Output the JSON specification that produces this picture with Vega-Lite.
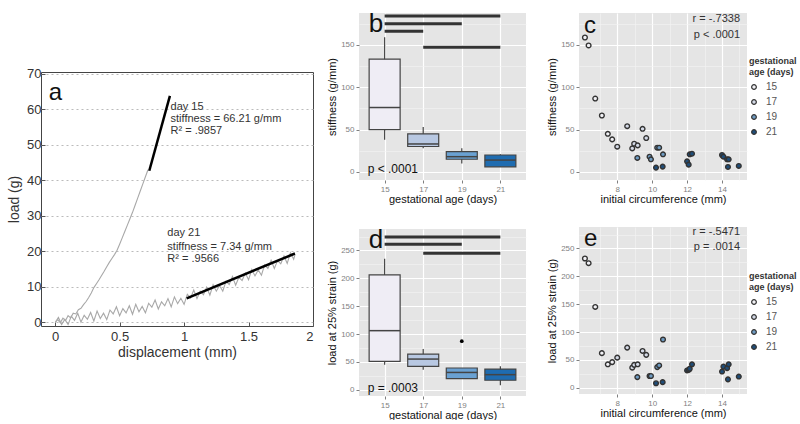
{
  "$schema": "https://vega.github.io/schema/vega-lite/v6.json",
  "padding": {"left": 7, "top": 10, "right": 0, "bottom": 0},
  "background": "white",
  "config": {
    "font": "Liberation Sans",
    "view": {"stroke": null},
    "axis": {"domain": false, "labelOverlap": false, "labelColor": "#7f7f7f", "labelFontSize": 8, "tickColor": "#7f7f7f", "tickSize": 3, "labelPadding": 2, "titleFontSize": 11, "titleFontWeight": "normal", "titleColor": "#111111", "titlePadding": 3, "gridColor": "#ffffff", "gridWidth": 1.2},
    "axisX": {"titlePadding": 0}
  },
  "datasets": {
    "curves": [
      {"curve": "d15", "x": 0.00, "y": 0.0}, {"curve": "d15", "x": 0.02, "y": 0.8}, {"curve": "d15", "x": 0.04, "y": -0.1}, {"curve": "d15", "x": 0.06, "y": 1.2}, {"curve": "d15", "x": 0.08, "y": 0.5}, {"curve": "d15", "x": 0.10, "y": 1.9}, {"curve": "d15", "x": 0.12, "y": 1.3}, {"curve": "d15", "x": 0.14, "y": 2.6}, {"curve": "d15", "x": 0.16, "y": 2.4}, {"curve": "d15", "x": 0.18, "y": 3.6}, {"curve": "d15", "x": 0.20, "y": 4.0}, {"curve": "d15", "x": 0.22, "y": 5.0}, {"curve": "d15", "x": 0.24, "y": 5.9}, {"curve": "d15", "x": 0.26, "y": 7.0}, {"curve": "d15", "x": 0.28, "y": 8.3}, {"curve": "d15", "x": 0.30, "y": 9.8}, {"curve": "d15", "x": 0.32, "y": 10.9}, {"curve": "d15", "x": 0.34, "y": 12.0}, {"curve": "d15", "x": 0.36, "y": 13.2}, {"curve": "d15", "x": 0.38, "y": 14.4}, {"curve": "d15", "x": 0.40, "y": 15.7}, {"curve": "d15", "x": 0.42, "y": 16.9}, {"curve": "d15", "x": 0.44, "y": 18.0}, {"curve": "d15", "x": 0.46, "y": 19.1}, {"curve": "d15", "x": 0.48, "y": 20.3}, {"curve": "d15", "x": 0.50, "y": 22.0}, {"curve": "d15", "x": 0.52, "y": 23.8}, {"curve": "d15", "x": 0.54, "y": 25.6}, {"curve": "d15", "x": 0.56, "y": 27.4}, {"curve": "d15", "x": 0.58, "y": 29.2}, {"curve": "d15", "x": 0.60, "y": 31.0}, {"curve": "d15", "x": 0.62, "y": 33.0}, {"curve": "d15", "x": 0.64, "y": 35.0}, {"curve": "d15", "x": 0.66, "y": 37.0}, {"curve": "d15", "x": 0.68, "y": 39.0}, {"curve": "d15", "x": 0.70, "y": 41.0}, {"curve": "d15", "x": 0.72, "y": 43.0},
      {"curve": "d21", "x": 0.000, "y": 0.0}, {"curve": "d21", "x": 0.025, "y": 1.4}, {"curve": "d21", "x": 0.050, "y": -0.6}, {"curve": "d21", "x": 0.075, "y": 0.9}, {"curve": "d21", "x": 0.100, "y": -0.6}, {"curve": "d21", "x": 0.125, "y": 1.8}, {"curve": "d21", "x": 0.150, "y": 0.6}, {"curve": "d21", "x": 0.175, "y": 2.6}, {"curve": "d21", "x": 0.200, "y": 0.1}, {"curve": "d21", "x": 0.225, "y": 2.0}, {"curve": "d21", "x": 0.250, "y": 0.9}, {"curve": "d21", "x": 0.275, "y": 2.8}, {"curve": "d21", "x": 0.300, "y": 0.4}, {"curve": "d21", "x": 0.325, "y": 3.2}, {"curve": "d21", "x": 0.350, "y": 1.1}, {"curve": "d21", "x": 0.375, "y": 2.6}, {"curve": "d21", "x": 0.400, "y": 0.8}, {"curve": "d21", "x": 0.425, "y": 3.5}, {"curve": "d21", "x": 0.450, "y": 2.4}, {"curve": "d21", "x": 0.475, "y": 4.4}, {"curve": "d21", "x": 0.500, "y": 1.9}, {"curve": "d21", "x": 0.525, "y": 3.9}, {"curve": "d21", "x": 0.550, "y": 2.7}, {"curve": "d21", "x": 0.575, "y": 4.7}, {"curve": "d21", "x": 0.600, "y": 2.3}, {"curve": "d21", "x": 0.625, "y": 5.1}, {"curve": "d21", "x": 0.650, "y": 3.0}, {"curve": "d21", "x": 0.675, "y": 4.5}, {"curve": "d21", "x": 0.700, "y": 2.7}, {"curve": "d21", "x": 0.725, "y": 5.4}, {"curve": "d21", "x": 0.750, "y": 4.3}, {"curve": "d21", "x": 0.775, "y": 6.3}, {"curve": "d21", "x": 0.800, "y": 3.8}, {"curve": "d21", "x": 0.825, "y": 5.8}, {"curve": "d21", "x": 0.850, "y": 4.7}, {"curve": "d21", "x": 0.875, "y": 6.7}, {"curve": "d21", "x": 0.900, "y": 4.4}, {"curve": "d21", "x": 0.925, "y": 7.2}, {"curve": "d21", "x": 0.950, "y": 5.3}, {"curve": "d21", "x": 0.975, "y": 6.8}, {"curve": "d21", "x": 1.000, "y": 5.1}, {"curve": "d21", "x": 1.025, "y": 7.9}, {"curve": "d21", "x": 1.050, "y": 6.9}, {"curve": "d21", "x": 1.075, "y": 9.1}, {"curve": "d21", "x": 1.100, "y": 6.7}, {"curve": "d21", "x": 1.125, "y": 8.8}, {"curve": "d21", "x": 1.150, "y": 7.8}, {"curve": "d21", "x": 1.175, "y": 9.9}, {"curve": "d21", "x": 1.200, "y": 7.7}, {"curve": "d21", "x": 1.225, "y": 10.6}, {"curve": "d21", "x": 1.250, "y": 8.8}, {"curve": "d21", "x": 1.275, "y": 10.4}, {"curve": "d21", "x": 1.300, "y": 8.8}, {"curve": "d21", "x": 1.325, "y": 11.6}, {"curve": "d21", "x": 1.350, "y": 10.7}, {"curve": "d21", "x": 1.375, "y": 12.9}, {"curve": "d21", "x": 1.400, "y": 10.5}, {"curve": "d21", "x": 1.425, "y": 12.7}, {"curve": "d21", "x": 1.450, "y": 11.8}, {"curve": "d21", "x": 1.475, "y": 13.9}, {"curve": "d21", "x": 1.500, "y": 12.0}, {"curve": "d21", "x": 1.525, "y": 14.9}, {"curve": "d21", "x": 1.550, "y": 13.1}, {"curve": "d21", "x": 1.575, "y": 14.8}, {"curve": "d21", "x": 1.600, "y": 13.3}, {"curve": "d21", "x": 1.625, "y": 16.2}, {"curve": "d21", "x": 1.650, "y": 15.2}, {"curve": "d21", "x": 1.675, "y": 17.5}, {"curve": "d21", "x": 1.700, "y": 15.2}, {"curve": "d21", "x": 1.725, "y": 17.4}, {"curve": "d21", "x": 1.750, "y": 16.5}, {"curve": "d21", "x": 1.775, "y": 18.7}, {"curve": "d21", "x": 1.800, "y": 16.6}, {"curve": "d21", "x": 1.825, "y": 19.6}, {"curve": "d21", "x": 1.850, "y": 17.8}, {"curve": "d21", "x": 1.860, "y": 19.0}
    ],
    "fits": [
      {"curve": "d15", "x": 0.73, "y": 42.7}, {"curve": "d15", "x": 0.89, "y": 63.8},
      {"curve": "d21", "x": 1.02, "y": 6.8}, {"curve": "d21", "x": 1.86, "y": 19.4}
    ],
    "annA": [
      {"x": 0.895, "y": 60.7, "label": "day 15"},
      {"x": 0.895, "y": 57.3, "label": "stiffness = 66.21 g/mm"},
      {"x": 0.895, "y": 53.9, "label": "R² = .9857"},
      {"x": 0.87, "y": 25.2, "label": "day 21"},
      {"x": 0.87, "y": 21.3, "label": "stiffness = 7.34 g/mm"},
      {"x": 0.87, "y": 17.9, "label": "R² = .9566"}
    ],
    "letterA": [{"x": -0.05, "y": 64.5, "label": "a"}],
    "boxB": [
      {"age": 15, "lo": 38, "q1": 50, "med": 76, "q3": 133, "hi": 159},
      {"age": 17, "lo": 28, "q1": 30, "med": 33, "q3": 45, "hi": 53},
      {"age": 19, "lo": 10, "q1": 15, "med": 18, "q3": 24, "hi": 28},
      {"age": 21, "lo": 6, "q1": 6, "med": 14, "q3": 20, "hi": 21}
    ],
    "boxD": [
      {"age": 15, "lo": 45, "q1": 51, "med": 106, "q3": 206, "hi": 235},
      {"age": 17, "lo": 36, "q1": 42, "med": 55, "q3": 64, "hi": 73},
      {"age": 19, "lo": 20, "q1": 20, "med": 31, "q3": 39, "hi": 39},
      {"age": 21, "lo": 8, "q1": 17, "med": 27, "q3": 37, "hi": 42}
    ],
    "outD": [{"age": 19, "y": 87}],
    "sigB": [
      {"age": 15, "age2": 21, "y": 183.9},
      {"age": 15, "age2": 19, "y": 174.8},
      {"age": 15, "age2": 17, "y": 166.1},
      {"age": 17, "age2": 21, "y": 147.2}
    ],
    "sigD": [
      {"age": 15, "age2": 21, "y": 274},
      {"age": 15, "age2": 19, "y": 261},
      {"age": 17, "age2": 21, "y": 245}
    ],
    "txtB": [{"age": 14.17, "y": 175, "label": "b", "kind": "letter"}, {"age": 14.12, "y": 3.5, "label": "p < .0001", "kind": "p"}],
    "txtD": [{"age": 14.17, "y": 269, "label": "d", "kind": "letter"}, {"age": 14.12, "y": 3, "label": "p = .0003", "kind": "p"}],
    "txtC": [{"circ": 6.09, "y": 172, "label": "c"}],
    "txtE": [{"circ": 6.09, "y": 267, "label": "e"}],
    "statC": [{"circ": 15.03, "y": 180, "label": "r = -.7338"}, {"circ": 15.03, "y": 161.5, "label": "p < .0001"}],
    "statE": [{"circ": 15.03, "y": 279, "label": "r = -.5471"}, {"circ": 15.03, "y": 252, "label": "p = .0014"}],
    "scatter": [
      {"circ": 6.15, "stiff": 158.6, "load": 232, "age": 15},
      {"circ": 6.36, "stiff": 149.2, "load": 223.5, "age": 15},
      {"circ": 6.74, "stiff": 86.6, "load": 145, "age": 15},
      {"circ": 7.12, "stiff": 66.6, "load": 62, "age": 15},
      {"circ": 7.46, "stiff": 45, "load": 42, "age": 15},
      {"circ": 7.71, "stiff": 38.4, "load": 46, "age": 15},
      {"circ": 8.0, "stiff": 29.8, "load": 54, "age": 17},
      {"circ": 8.57, "stiff": 54, "load": 72, "age": 17},
      {"circ": 8.86, "stiff": 27.8, "load": 36, "age": 17},
      {"circ": 8.97, "stiff": 33.3, "load": 41, "age": 17},
      {"circ": 9.17, "stiff": 31.3, "load": 42, "age": 17},
      {"circ": 9.45, "stiff": 50.9, "load": 66, "age": 17},
      {"circ": 9.66, "stiff": 40, "load": 59, "age": 17},
      {"circ": 9.15, "stiff": 16.5, "load": 19, "age": 19},
      {"circ": 9.85, "stiff": 18, "load": 21, "age": 19},
      {"circ": 9.93, "stiff": 14.9, "load": 21, "age": 19},
      {"circ": 10.29, "stiff": 28.6, "load": 37, "age": 19},
      {"circ": 10.4, "stiff": 28.6, "load": 40, "age": 19},
      {"circ": 10.62, "stiff": 20.8, "load": 86.5, "age": 19},
      {"circ": 10.22, "stiff": 5.1, "load": 8, "age": 21},
      {"circ": 10.6, "stiff": 6.3, "load": 10, "age": 21},
      {"circ": 12.0, "stiff": 12.5, "load": 31, "age": 21},
      {"circ": 12.09, "stiff": 8.6, "load": 32, "age": 21},
      {"circ": 12.15, "stiff": 20.8, "load": 34, "age": 21},
      {"circ": 12.28, "stiff": 21.5, "load": 42, "age": 21},
      {"circ": 14.0, "stiff": 20, "load": 29, "age": 21},
      {"circ": 14.08, "stiff": 18, "load": 38, "age": 21},
      {"circ": 14.29, "stiff": 14.9, "load": 35, "age": 21},
      {"circ": 14.38, "stiff": 14.9, "load": 42, "age": 21},
      {"circ": 14.34, "stiff": 5.9, "load": 15, "age": 21},
      {"circ": 14.96, "stiff": 7.1, "load": 20, "age": 21}
    ]
  },
  "spacing": 12,
  "resolve": {"scale": {"x": "independent", "y": "independent", "fill": "independent"}, "legend": {"fill": "independent"}},
  "hconcat": [
    {
      "spacing": 0,
      "resolve": {"scale": {"x": "independent", "y": "independent"}},
      "vconcat": [
        {"width": 272, "height": 54, "data": {"values": [{"t": ""}]}, "mark": "text", "encoding": {"text": {"field": "t"}}},
        {
          "width": 272, "height": 254,
          "view": {"stroke": "#444444", "strokeWidth": 1, "fill": "white"},
          "layer": [
            {
              "data": {"name": "curves"},
              "mark": {"type": "line", "color": "#a8a8a8", "strokeWidth": 1.1},
              "encoding": {
                "x": {"field": "x", "type": "quantitative", "scale": {"domain": [-0.11, 2], "nice": false, "zero": false}, "axis": {"title": "displacement (mm)", "values": [0, 0.5, 1, 1.5, 2], "tickCount": 30, "labelOverlap": false, "labelExpr": "'' + datum.value", "grid": false, "labelColor": "#333333", "labelFontSize": 13, "titleFontSize": 14, "titleColor": "#333333", "tickColor": "#555555", "tickSize": -4, "labelPadding": 8, "titlePadding": 2}},
                "y": {"field": "y", "type": "quantitative", "scale": {"domain": [-1, 70.5], "nice": false, "zero": false}, "axis": {"title": "load (g)", "values": [0, 10, 20, 30, 40, 50, 60, 70], "tickCount": 30, "format": "d", "labelOverlap": false, "grid": true, "gridDash": [2, 3], "gridColor": "#bbbbbb", "gridWidth": 1, "labelColor": "#333333", "labelFontSize": 13, "titleFontSize": 14, "titleColor": "#333333", "tickColor": "#555555", "tickSize": -4, "labelPadding": 4, "titlePadding": 5}},
                "detail": {"field": "curve"}
              }
            },
            {
              "data": {"name": "fits"},
              "mark": {"type": "line", "color": "#000000", "strokeWidth": 2.5},
              "encoding": {
                "x": {"field": "x", "type": "quantitative"},
                "y": {"field": "y", "type": "quantitative"},
                "detail": {"field": "curve"}
              }
            },
            {
              "data": {"name": "annA"},
              "mark": {"type": "text", "align": "left", "baseline": "middle", "fontSize": 11, "color": "#333333"},
              "encoding": {
                "x": {"field": "x", "type": "quantitative"},
                "y": {"field": "y", "type": "quantitative"},
                "text": {"field": "label"}
              }
            },
            {
              "data": {"name": "letterA"},
              "mark": {"type": "text", "align": "left", "baseline": "middle", "fontSize": 24, "color": "#111111"},
              "encoding": {
                "x": {"field": "x", "type": "quantitative"},
                "y": {"field": "y", "type": "quantitative"},
                "text": {"field": "label"}
              }
            }
          ]
        }
      ]
    },
    {
      "spacing": 20,
      "resolve": {"scale": {"x": "independent", "y": "independent", "fill": "independent"}, "legend": {"fill": "independent"}},
      "hconcat": [
        {
          "spacing": 22,
          "resolve": {"scale": {"x": "independent", "y": "independent", "fill": "independent"}},
          "vconcat": [
            {
              "width": 167, "height": 167,
              "view": {"fill": "#e5e5e5", "stroke": null},
              "layer": [
                {
                  "data": {"name": "boxB"},
                  "mark": {"type": "rule", "color": "#444444", "strokeWidth": 1.2},
                  "encoding": {
                    "x": {"field": "age", "type": "quantitative", "scale": {"domain": [13.93, 22.07], "nice": false, "zero": false}, "axis": {"title": "gestational age (days)", "values": [15, 17, 19, 21], "tickCount": 30, "format": "d", "labelOverlap": false}},
                    "y": {"field": "lo", "type": "quantitative", "scale": {"domain": [-9.5, 187.5], "nice": false, "zero": false}, "axis": {"title": "stiffness (g/mm)", "values": [0, 25, 50, 75, 100, 125, 150, 175], "tickCount": 30, "format": "d", "labelOverlap": false, "labelExpr": "datum.value % 50 === 0 ? datum.label : ''", "tickOpacity": {"condition": {"test": "datum.value % 50 === 0", "value": 1}, "value": 0}, "gridColor": {"condition": {"test": "datum.value % 50 === 0", "value": "#ffffff"}, "value": "#f3f3f3"}, "gridWidth": {"condition": {"test": "datum.value % 50 === 0", "value": 1.2}, "value": 0.6}}},
                    "y2": {"field": "hi"}
                  }
                },
                {
                  "data": {"name": "boxB"},
                  "mark": {"type": "bar", "width": 31, "stroke": "#444444", "strokeWidth": 1.2},
                  "encoding": {
                    "x": {"field": "age", "type": "quantitative"},
                    "y": {"field": "q1", "type": "quantitative"},
                    "y2": {"field": "q3"},
                    "fill": {"field": "age", "type": "ordinal", "scale": {"domain": [15, 17, 19, 21], "range": ["#efedf5", "#b8c8e2", "#6aa1d2", "#1f6cb0"]}, "legend": null}
                  }
                },
                {
                  "data": {"name": "boxB"},
                  "mark": {"type": "tick", "orient": "horizontal", "size": 31, "thickness": 1.5, "color": "#444444", "opacity": 1},
                  "encoding": {
                    "x": {"field": "age", "type": "quantitative"},
                    "y": {"field": "med", "type": "quantitative"}
                  }
                },
                {
                  "data": {"name": "sigB"},
                  "mark": {"type": "rule", "color": "#333333", "strokeWidth": 3},
                  "encoding": {
                    "x": {"field": "age", "type": "quantitative"},
                    "x2": {"field": "age2"},
                    "y": {"field": "y", "type": "quantitative"}
                  }
                },
                {
                  "data": {"name": "txtB"},
                  "mark": {"type": "text", "align": "left", "baseline": "middle", "color": "#111111"},
                  "encoding": {
                    "x": {"field": "age", "type": "quantitative"},
                    "y": {"field": "y", "type": "quantitative"},
                    "text": {"field": "label"},
                    "size": {"field": "kind", "type": "nominal", "scale": {"domain": ["letter", "p"], "range": [26, 12]}, "legend": null}
                  }
                }
              ]
            },
            {
              "width": 167, "height": 167,
              "view": {"fill": "#e5e5e5", "stroke": null},
              "layer": [
                {
                  "data": {"name": "boxD"},
                  "mark": {"type": "rule", "color": "#444444", "strokeWidth": 1.2},
                  "encoding": {
                    "x": {"field": "age", "type": "quantitative", "scale": {"domain": [13.93, 22.07], "nice": false, "zero": false}, "axis": {"title": "gestational age (days)", "values": [15, 17, 19, 21], "tickCount": 30, "format": "d", "labelOverlap": false}},
                    "y": {"field": "lo", "type": "quantitative", "scale": {"domain": [-11.3, 288.5], "nice": false, "zero": false}, "axis": {"title": "load at 25% strain (g)", "values": [0, 25, 50, 75, 100, 125, 150, 175, 200, 225, 250, 275], "tickCount": 30, "format": "d", "labelOverlap": false, "labelExpr": "datum.value % 50 === 0 ? datum.label : ''", "tickOpacity": {"condition": {"test": "datum.value % 50 === 0", "value": 1}, "value": 0}, "gridColor": {"condition": {"test": "datum.value % 50 === 0", "value": "#ffffff"}, "value": "#f3f3f3"}, "gridWidth": {"condition": {"test": "datum.value % 50 === 0", "value": 1.2}, "value": 0.6}}},
                    "y2": {"field": "hi"}
                  }
                },
                {
                  "data": {"name": "boxD"},
                  "mark": {"type": "bar", "width": 31, "stroke": "#444444", "strokeWidth": 1.2},
                  "encoding": {
                    "x": {"field": "age", "type": "quantitative"},
                    "y": {"field": "q1", "type": "quantitative"},
                    "y2": {"field": "q3"},
                    "fill": {"field": "age", "type": "ordinal", "scale": {"domain": [15, 17, 19, 21], "range": ["#efedf5", "#b8c8e2", "#6aa1d2", "#1f6cb0"]}, "legend": null}
                  }
                },
                {
                  "data": {"name": "boxD"},
                  "mark": {"type": "tick", "orient": "horizontal", "size": 31, "thickness": 1.5, "color": "#444444", "opacity": 1},
                  "encoding": {
                    "x": {"field": "age", "type": "quantitative"},
                    "y": {"field": "med", "type": "quantitative"}
                  }
                },
                {
                  "data": {"name": "outD"},
                  "mark": {"type": "point", "filled": true, "color": "#000000", "size": 14, "opacity": 1},
                  "encoding": {
                    "x": {"field": "age", "type": "quantitative"},
                    "y": {"field": "y", "type": "quantitative"}
                  }
                },
                {
                  "data": {"name": "sigD"},
                  "mark": {"type": "rule", "color": "#333333", "strokeWidth": 3},
                  "encoding": {
                    "x": {"field": "age", "type": "quantitative"},
                    "x2": {"field": "age2"},
                    "y": {"field": "y", "type": "quantitative"}
                  }
                },
                {
                  "data": {"name": "txtD"},
                  "mark": {"type": "text", "align": "left", "baseline": "middle", "color": "#111111"},
                  "encoding": {
                    "x": {"field": "age", "type": "quantitative"},
                    "y": {"field": "y", "type": "quantitative"},
                    "text": {"field": "label"},
                    "size": {"field": "kind", "type": "nominal", "scale": {"domain": ["letter", "p"], "range": [26, 12]}, "legend": null}
                  }
                }
              ]
            }
          ]
        },
        {
          "spacing": 22,
          "resolve": {"scale": {"x": "independent", "y": "independent", "fill": "independent"}, "legend": {"fill": "independent"}},
          "vconcat": [
            {
              "width": 168, "height": 167,
              "view": {"fill": "#e5e5e5", "stroke": null},
              "layer": [
                {
                  "data": {"name": "scatter"},
                  "mark": {"type": "point", "shape": "circle", "filled": true, "stroke": "#333333", "strokeWidth": 1.4, "size": 22, "opacity": 1},
                  "encoding": {
                    "x": {"field": "circ", "type": "quantitative", "scale": {"domain": [5.81, 15.43], "nice": false, "zero": false}, "axis": {"title": "initial circumference (mm)", "values": [7, 8, 9, 10, 11, 12, 13, 14, 15], "tickCount": 30, "format": "d", "labelOverlap": false, "labelExpr": "datum.value % 2 === 0 ? datum.label : ''", "tickOpacity": {"condition": {"test": "datum.value % 2 === 0", "value": 1}, "value": 0}, "gridColor": {"condition": {"test": "datum.value % 2 === 0", "value": "#ffffff"}, "value": "#f3f3f3"}, "gridWidth": {"condition": {"test": "datum.value % 2 === 0", "value": 1.2}, "value": 0.6}}},
                    "y": {"field": "stiff", "type": "quantitative", "scale": {"domain": [-9.5, 187.5], "nice": false, "zero": false}, "axis": {"title": "stiffness (g/mm)", "values": [0, 25, 50, 75, 100, 125, 150, 175], "tickCount": 30, "format": "d", "labelOverlap": false, "labelExpr": "datum.value % 50 === 0 ? datum.label : ''", "tickOpacity": {"condition": {"test": "datum.value % 50 === 0", "value": 1}, "value": 0}, "gridColor": {"condition": {"test": "datum.value % 50 === 0", "value": "#ffffff"}, "value": "#f3f3f3"}, "gridWidth": {"condition": {"test": "datum.value % 50 === 0", "value": 1.2}, "value": 0.6}}},
                    "fill": {"field": "age", "type": "ordinal", "scale": {"domain": [15, 17, 19, 21], "range": ["#f2f2f6", "#d3d9e6", "#6f9cc3", "#1f4e7a"]}, "legend": {"title": ["gestational", "age (days)"], "orient": "none", "legendX": 170, "legendY": 44, "titleFontSize": 9, "titleFontWeight": "bold", "titleColor": "#333333", "titlePadding": 5, "labelFontSize": 10, "labelColor": "#555555", "labelOffset": 7, "symbolType": "circle", "symbolSize": 22, "symbolStrokeColor": "#333333", "symbolStrokeWidth": 1.2, "rowPadding": 5}}
                  }
                },
                {
                  "data": {"name": "txtC"},
                  "mark": {"type": "text", "align": "left", "baseline": "middle", "fontSize": 24, "color": "#111111"},
                  "encoding": {
                    "x": {"field": "circ", "type": "quantitative"},
                    "y": {"field": "y", "type": "quantitative"},
                    "text": {"field": "label"}
                  }
                },
                {
                  "data": {"name": "statC"},
                  "mark": {"type": "text", "align": "right", "baseline": "middle", "fontSize": 11, "color": "#333333"},
                  "encoding": {
                    "x": {"field": "circ", "type": "quantitative"},
                    "y": {"field": "y", "type": "quantitative"},
                    "text": {"field": "label"}
                  }
                }
              ]
            },
            {
              "width": 168, "height": 167,
              "view": {"fill": "#e5e5e5", "stroke": null},
              "layer": [
                {
                  "data": {"name": "scatter"},
                  "mark": {"type": "point", "shape": "circle", "filled": true, "stroke": "#333333", "strokeWidth": 1.4, "size": 22, "opacity": 1},
                  "encoding": {
                    "x": {"field": "circ", "type": "quantitative", "scale": {"domain": [5.81, 15.43], "nice": false, "zero": false}, "axis": {"title": "initial circumference (mm)", "values": [7, 8, 9, 10, 11, 12, 13, 14, 15], "tickCount": 30, "format": "d", "labelOverlap": false, "labelExpr": "datum.value % 2 === 0 ? datum.label : ''", "tickOpacity": {"condition": {"test": "datum.value % 2 === 0", "value": 1}, "value": 0}, "gridColor": {"condition": {"test": "datum.value % 2 === 0", "value": "#ffffff"}, "value": "#f3f3f3"}, "gridWidth": {"condition": {"test": "datum.value % 2 === 0", "value": 1.2}, "value": 0.6}}},
                    "y": {"field": "load", "type": "quantitative", "scale": {"domain": [-11.3, 288.5], "nice": false, "zero": false}, "axis": {"title": "load at 25% strain (g)", "values": [0, 25, 50, 75, 100, 125, 150, 175, 200, 225, 250, 275], "tickCount": 30, "format": "d", "labelOverlap": false, "labelExpr": "datum.value % 50 === 0 ? datum.label : ''", "tickOpacity": {"condition": {"test": "datum.value % 50 === 0", "value": 1}, "value": 0}, "gridColor": {"condition": {"test": "datum.value % 50 === 0", "value": "#ffffff"}, "value": "#f3f3f3"}, "gridWidth": {"condition": {"test": "datum.value % 50 === 0", "value": 1.2}, "value": 0.6}}},
                    "fill": {"field": "age", "type": "ordinal", "scale": {"domain": [15, 17, 19, 21], "range": ["#f2f2f6", "#d3d9e6", "#6f9cc3", "#1f4e7a"]}, "legend": {"title": ["gestational", "age (days)"], "orient": "none", "legendX": 170, "legendY": 45, "titleFontSize": 9, "titleFontWeight": "bold", "titleColor": "#333333", "titlePadding": 5, "labelFontSize": 10, "labelColor": "#555555", "labelOffset": 7, "symbolType": "circle", "symbolSize": 22, "symbolStrokeColor": "#333333", "symbolStrokeWidth": 1.2, "rowPadding": 5}}
                  }
                },
                {
                  "data": {"name": "txtE"},
                  "mark": {"type": "text", "align": "left", "baseline": "middle", "fontSize": 24, "color": "#111111"},
                  "encoding": {
                    "x": {"field": "circ", "type": "quantitative"},
                    "y": {"field": "y", "type": "quantitative"},
                    "text": {"field": "label"}
                  }
                },
                {
                  "data": {"name": "statE"},
                  "mark": {"type": "text", "align": "right", "baseline": "middle", "fontSize": 11, "color": "#333333"},
                  "encoding": {
                    "x": {"field": "circ", "type": "quantitative"},
                    "y": {"field": "y", "type": "quantitative"},
                    "text": {"field": "label"}
                  }
                }
              ]
            }
          ]
        }
      ]
    }
  ]
}
